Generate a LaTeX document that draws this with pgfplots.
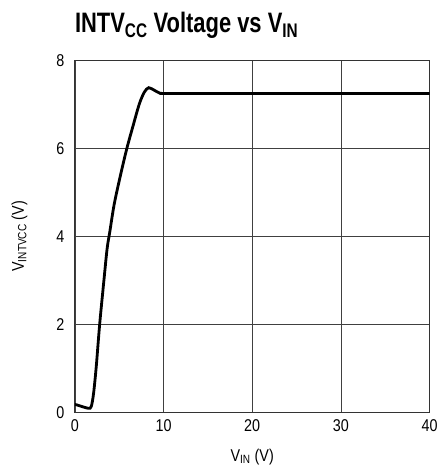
\documentclass[border=0pt]{standalone}
\usepackage{fontspec}
\setmainfont{Liberation Sans}[FakeStretch=0.84]
\newfontfamily\titlefont{Liberation Sans}[UprightFont=*-Bold]
\usepackage{graphicx}
\usepackage{pgfplots}
\pgfplotsset{compat=1.18}
\begin{document}
\begin{tikzpicture}
\begin{axis}[
  name=ax,
  scale only axis,
  width=352bp, height=349bp,
  xmin=0, xmax=40, ymin=0, ymax=8,
  xtick={0,10,20,30,40}, ytick={0,2,4,6,8},
  grid=major,
  major grid style={draw=black!75, line width=0.6pt},
  axis line style={draw=black!80, line width=1.2pt},
  major tick length=0pt,
  tick label style={font=\fontsize{17}{19}\selectfont},
  /pgf/number format/assume math mode=true,
  xticklabel style={yshift=-4pt},
  yticklabel style={xshift=-7pt},
  label style={font=\fontsize{17}{19}\selectfont},
  xlabel={V\textsubscript{IN} (V)},
  ylabel={V\textsubscript{INTVCC} (V)},
  xlabel shift=10pt,
  ylabel shift=22pt,
]
\addplot[black, line width=2.8pt, smooth, tension=0.5] coordinates {
  (0,0.17) (0.15,0.17) (1.48,0.09) (1.85,0.13) (2.12,0.44) (2.42,1.05)
  (2.8,2.0) (3.26,2.96) (3.64,3.72) (3.94,4.1) (4.43,4.72) (5.08,5.33)
  (5.84,5.98) (6.52,6.48) (7.27,7.01) (7.84,7.28) (8.33,7.38) (8.98,7.32)
  (9.55,7.26) (10.1,7.25) (15,7.25) (20,7.25) (25,7.25) (30,7.25)
  (35,7.25) (40,7.25)
};
\end{axis}
\node[anchor=base west, inner sep=0pt]
  at ([yshift=28bp]ax.north west)
  {\rule{0pt}{32bp}\scalebox{0.78}[1]{\titlefont\fontsize{28}{30}\selectfont
   INTV\textsubscript{CC} Voltage vs V\textsubscript{IN}}};
\path ([xshift=-8bp]current bounding box.west);
\end{tikzpicture}
\end{document}
